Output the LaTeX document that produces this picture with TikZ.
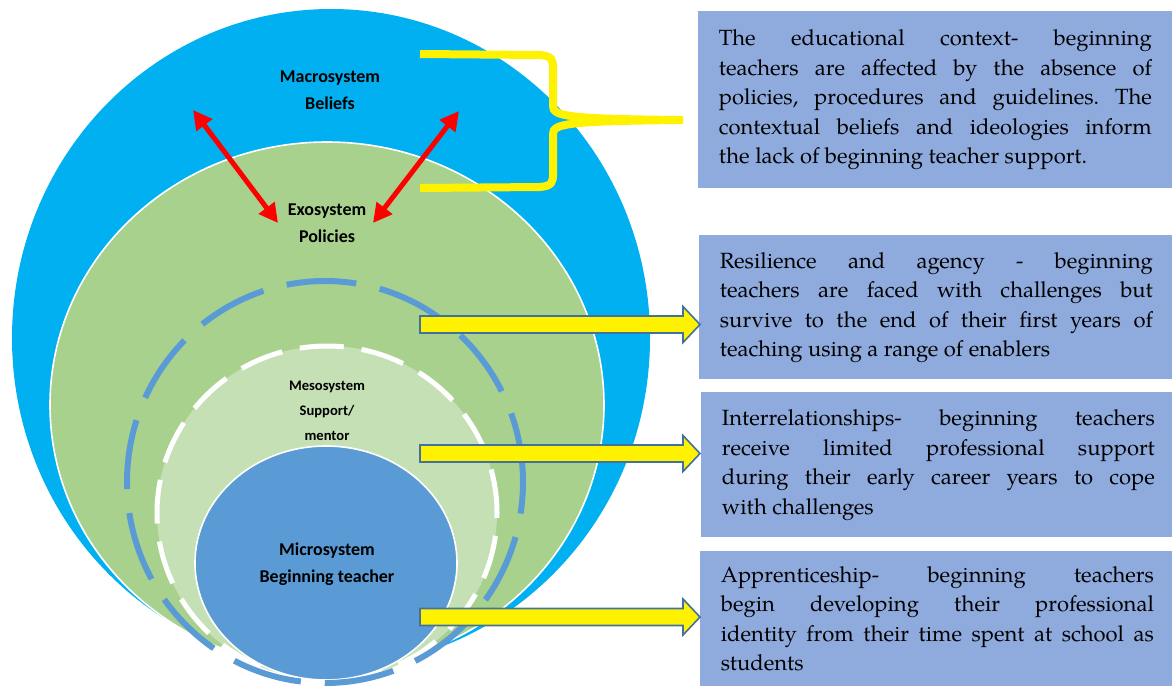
\documentclass[tikz,border=0pt]{standalone}
\usepackage{fontspec}
\setmainfont{TeX Gyre Pagella}
\newfontfamily\lblfont{Carlito}
\usetikzlibrary{shapes.geometric,arrows.meta}
\definecolor{macroblue}{HTML}{00B0F0}
\definecolor{exogreen}{HTML}{A9D18E}
\definecolor{mesogreen}{HTML}{C5E0B4}
\definecolor{microblue}{HTML}{5B9BD5}
\definecolor{boxblue}{HTML}{8FAADC}
\definecolor{edgeblue}{HTML}{41719C}
\frenchspacing

\begin{document}
\begin{tikzpicture}[x=0.5pt,y=-0.5pt]
\tikzset{sphere/.style={ellipse, inner sep=0pt, outer sep=0pt},
  lbl/.style={font=\lblfont\bfseries\fontsize{9}{13.5}\selectfont, align=center},
  infobox/.style={fill=boxblue, anchor=north west, text width=216.5pt, inner xsep=10.25pt, inner ysep=0pt, align=justify,
    font=\fontsize{11}{14.75}\selectfont},
  twoway/.style={red, line width=2.5pt, {Triangle[length=9.5pt,width=9.5pt]}-{Triangle[length=9.5pt,width=9.5pt]}},
  brace/.style={yellow, line width=4pt},
  fatarrow/.style={fill=yellow, draw=edgeblue, line width=0.8pt, line join=miter}}
\useasboundingbox (0,0) rectangle (1172,686);
\node[sphere, fill=macroblue, minimum width=319pt, minimum height=329pt] (macro) at (331,338) {};
\node[sphere, fill=exogreen, draw=white, line width=0.8pt, minimum width=277pt, minimum height=263pt] (exo) at (327,405) {};
\node[sphere, fill=mesogreen, draw=white, line width=2.5pt, dash pattern=on 22pt off 9pt, minimum width=170pt, minimum height=167pt] (meso) at (327,513) {};
\node[sphere, fill=microblue, draw=white, line width=0.8pt, minimum width=131pt, minimum height=117pt] (micro) at (326,563) {};
\node[sphere, draw=microblue, line width=3pt, dash pattern=on 35pt off 12pt, minimum width=198pt, minimum height=201pt] (ring) at (325,482) {};
\node[lbl] (beliefs) at (330,90) {Macrosystem\\Beliefs};
\node[lbl] (policies) at (327,223) {Exosystem\\Policies};
\node[lbl, font=\lblfont\bfseries\fontsize{7.3}{12.5}\selectfont] (mentor) at (327,411) {Mesosystem\\Support/\\mentor};
\node[lbl] (teacher) at (327,564) {Microsystem\\Beginning teacher};
\coordinate (L1) at (193,110);
\coordinate (L2) at (278,223);
\coordinate (R1) at (459,111);
\coordinate (R2) at (373,223);
\draw[twoway] (L1) -- (L2);
\draw[twoway] (R1) -- (R2);
\node[infobox, minimum height=88.5pt] (context) at (698,11) {\hyphenpenalty=10000\relax The educational context- beginning\linebreak teachers are affected by the absence of\linebreak policies, procedures and guidelines. The\linebreak contextual beliefs and ideologies inform\linebreak the lack of beginning teacher support.};
\node[infobox, minimum height=72pt] (resilience) at (699,235) {\hyphenpenalty=10000\relax Resilience and agency - beginning\linebreak teachers are faced with challenges but\linebreak survive to the end of their first years of\linebreak teaching using a range of enablers};
\node[infobox, minimum height=72.5pt] (relations) at (701,392) {\hyphenpenalty=10000\relax Interrelationships- beginning teachers\linebreak receive limited professional support\linebreak during their early career years to cope\linebreak with challenges};
\node[infobox, minimum height=67.5pt] (apprentice) at (700,551) {\hyphenpenalty=10000\relax Apprenticeship- beginning teachers\linebreak begin developing their professional\linebreak identity from their time spent at school as\linebreak students};
\coordinate (braceT) at (420,54);
\coordinate (braceB) at (420,188);
\coordinate (braceTip) at (683,120);
\draw[brace] (braceT) -- (540,55) .. controls (552,56) and (553,60) .. (553,68) -- (553,106) .. controls (553,116) and (565,119) .. (braceTip);
\draw[brace] (braceB) -- (540,187) .. controls (552,186) and (553,182) .. (553,174) -- (553,134) .. controls (553,124) and (565,121) .. (braceTip);
\foreach \y in {324.5,453.5,617}
  \draw[fatarrow] (420,\y-8.5) -- (683,\y-8.5) -- (683,\y-18) -- (700,\y) -- (683,\y+18) -- (683,\y+8.5) -- (420,\y+8.5) -- cycle;
\end{tikzpicture}
\end{document}
